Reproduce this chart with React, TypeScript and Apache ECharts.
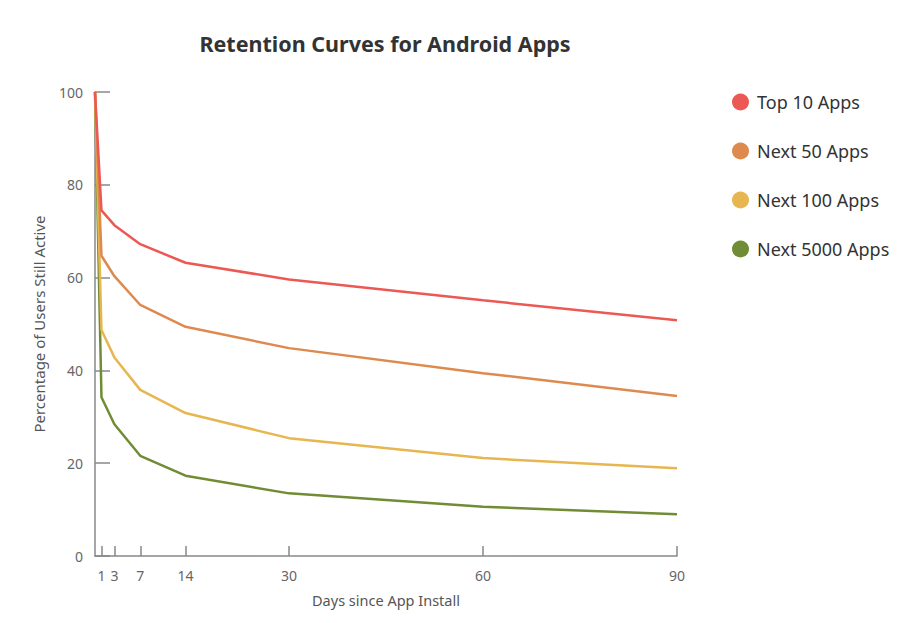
import React, { useEffect, useRef } from "react";
import * as echarts from "echarts";

const days = [0, 1, 3, 7, 14, 30, 60, 90];
const xTickLabels = [1, 3, 7, 14, 30, 60, 90];
const seriesNames = ["Top 10 Apps", "Next 50 Apps", "Next 100 Apps", "Next 5000 Apps"];
const top10 = [100, 74.5, 71.3, 67.2, 63.2, 59.6, 55.1, 50.8];
const next50 = [100, 64.7, 60.3, 54.1, 49.4, 44.8, 39.4, 34.5];
const next100 = [100, 48.7, 42.8, 35.8, 30.8, 25.4, 21.1, 18.9];
const next5000 = [100, 34.2, 28.4, 21.6, 17.3, 13.5, 10.6, 9.0];
const colors = ["#ec5854", "#de894e", "#e7b650", "#708c34"];

const FONT = "'Noto Sans', sans-serif";

export default function App() {
  const ref = useRef<HTMLDivElement>(null);
  useEffect(() => {
    if (!ref.current) return;
    const chart = echarts.init(ref.current, null, { renderer: "svg" });
    const values = [top10, next50, next100, next5000];
    chart.setOption({
      animation: false,
      backgroundColor: "#ffffff",
      textStyle: { fontFamily: FONT },
      title: {
        text: "Retention Curves for Android Apps",
        left: 372,
        top: 19,
        textAlign: "center",
        textStyle: { fontFamily: FONT, fontSize: 21.5, fontWeight: "bold", color: "#333333" },
      },
      legend: {
        orient: "vertical",
        left: 719,
        top: 80,
        itemGap: 31,
        icon: "circle",
        itemWidth: 17,
        itemHeight: 17,
        textStyle: { fontFamily: FONT, fontSize: 18, color: "#333333", padding: [0, 0, 0, 3] },
        data: seriesNames,
      },
      grid: { left: 87, right: 236, top: 84, bottom: 67, containLabel: false },
      xAxis: {
        type: "value",
        min: 0,
        max: 90,
        name: "Days since App Install",
        nameLocation: "middle",
        nameGap: 36,
        nameTextStyle: { fontFamily: FONT, fontSize: 14.5, color: "#555555" },
        splitLine: { show: false },
        axisLine: { show: true, lineStyle: { color: "#888888", width: 1.5 } },
        axisTick: { show: true, inside: true, length: 10, customValues: xTickLabels, lineStyle: { color: "#888888", width: 1.5 } },
        axisLabel: { customValues: xTickLabels, fontFamily: FONT, fontSize: 14, color: "#666666", margin: 12 },
      },
      yAxis: {
        type: "value",
        min: 0,
        max: 100,
        interval: 20,
        name: "Percentage of Users Still Active",
        nameLocation: "middle",
        nameGap: 49,
        nameRotate: 90,
        nameTextStyle: { fontFamily: FONT, fontSize: 15, color: "#555555" },
        splitLine: { show: false },
        axisLine: { show: true, lineStyle: { color: "#888888", width: 1.5 } },
        axisTick: { show: true, inside: true, length: 15, lineStyle: { color: "#888888", width: 1.5 } },
        axisLabel: { fontFamily: FONT, fontSize: 14, color: "#666666", margin: 12 },
      },
      series: seriesNames.map((name, i) => ({
        name,
        type: "line",
        data: days.map((d, j) => [d, values[i][j]]),
        showSymbol: false,
        symbol: "circle",
        lineStyle: { color: colors[i], width: 2.5 },
        itemStyle: { color: colors[i] },
        z: 10 - i,
      })),
    });
    return () => chart.dispose();
  }, []);
  return <div ref={ref} style={{ width: 905, height: 615 }} />;
}
